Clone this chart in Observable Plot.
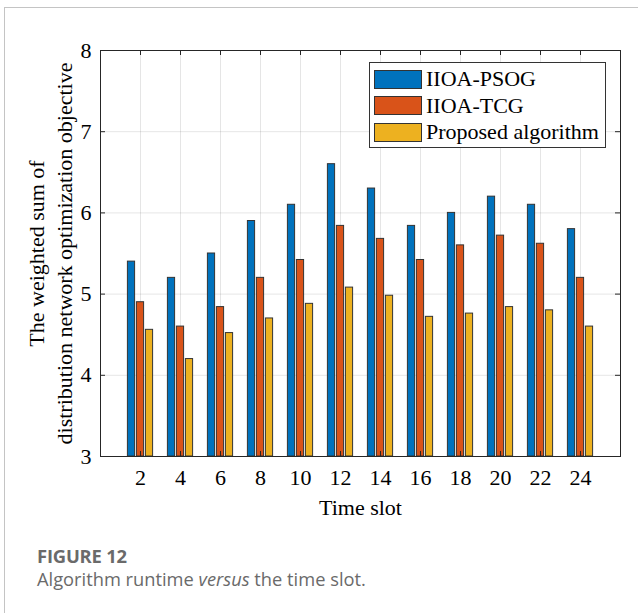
<!DOCTYPE html>
<html>
<head>
<meta charset="utf-8">
<script src="https://cdn.jsdelivr.net/npm/d3@7"></script>
<script src="https://cdn.jsdelivr.net/npm/@observablehq/plot@0.6"></script>
<style>
  html, body { margin: 0; padding: 0; background: #fff; }
  #wrap { position: relative; width: 638px; height: 613px; overflow: hidden; }
  #card { position: absolute; left: 4px; top: 7px; right: -2px; bottom: -2px;
          border-left: 1px solid #c4c4c4; border-top: 1px solid #c4c4c4; }
  #chart { position: absolute; left: 0; top: 0; }
  #legend { position: absolute; left: 369px; top: 62px; width: 237px; height: 86px;
            border: 1px solid #333; background: #fff; box-sizing: border-box;
            font-family: "Liberation Serif", "Times New Roman", serif; font-size: 22px; color: #000; }
  .lrow { position: absolute; left: 4px; height: 20px; display: flex; align-items: center; white-space: nowrap; }
  .sw { width: 48px; height: 19px; border: 1px solid #333; box-sizing: border-box; margin-right: 4px; }
  #fig { position: absolute; left: 37px; top: 543px; font-family: "Open Sans", sans-serif;
         font-weight: 700; font-size: 18.4px; color: #6a6a6a; letter-spacing: -0.2px; }
  #cap { position: absolute; left: 37px; top: 566px; font-family: "Open Sans", sans-serif;
         font-size: 18.3px; color: #6a6a6a; white-space: nowrap; }
</style>
</head>
<body>
<div id="wrap">
  <div id="card"></div>
  <div id="chart"></div>
  <div id="legend"></div>
  <div id="fig"></div>
  <div id="cap"></div>
</div>
<script>
// ---- data ----
const timeSlots = [2, 4, 6, 8, 10, 12, 14, 16, 18, 20, 22, 24];
const seriesNames = ["IIOA-PSOG", "IIOA-TCG", "Proposed algorithm"];
const psog     = [5.40, 5.20, 5.50, 5.90, 6.10, 6.60, 6.30, 5.84, 6.00, 6.20, 6.10, 5.80];
const tcg      = [4.90, 4.60, 4.84, 5.20, 5.42, 5.84, 5.68, 5.42, 5.60, 5.72, 5.62, 5.20];
const proposed = [4.56, 4.20, 4.52, 4.70, 4.88, 5.08, 4.98, 4.72, 4.76, 4.84, 4.80, 4.60];
const yTicks = [3, 4, 5, 6, 7, 8];
const xLabel = "Time slot";
const yLabelLines = ["The weighted sum of", "distribution network optimization objective"];
const figureLabel = "FIGURE 12";
const captionParts = ["Algorithm runtime ", "versus", " the time slot."];
const colors = ["#0072BD", "#D95319", "#EDB120"];

// ---- build table ----
const seriesValues = [psog, tcg, proposed];
const rows = [];
seriesValues.forEach((vals, si) => {
  vals.forEach((v, i) => rows.push({slot: timeSlots[i], series: seriesNames[si], si, value: v}));
});

const W = 638, H = 530;
const mL = 100, mR = 18, mT = 50, mB = 74;
const plotW = W - mL - mR, plotH = H - mT - mB;
const serif = "Liberation Serif, Times New Roman, serif";
const groupOffset = 0.45, halfBar = 0.18;
const axisColor = "#262626";

const chart = Plot.plot({
  width: W, height: H,
  marginLeft: mL, marginRight: mR, marginTop: mT, marginBottom: mB,
  style: {fontFamily: serif, background: "transparent", overflow: "visible"},
  x: {type: "linear", domain: [0, 26], axis: null},
  y: {domain: [3, 8], axis: null},
  color: {domain: seriesNames, range: colors},
  marks: [
    Plot.gridX(timeSlots, {stroke: "#000", strokeOpacity: 0.1, strokeWidth: 1}),
    Plot.gridY(yTicks, {stroke: "#000", strokeOpacity: 0.1, strokeWidth: 1}),
    Plot.rectY(rows, {
      x1: d => d.slot + (d.si - 1) * groupOffset - halfBar,
      x2: d => d.slot + (d.si - 1) * groupOffset + halfBar,
      y1: 3, y2: "value",
      fill: "series", stroke: "#333", strokeWidth: 1
    }),
    Plot.frame({stroke: axisColor, strokeWidth: 1}),
    Plot.tickX(timeSlots, {x: d => d, insetTop: plotH - 5, stroke: axisColor}),
    Plot.tickX(timeSlots, {x: d => d, insetBottom: plotH - 5, stroke: axisColor}),
    Plot.tickY(yTicks, {y: d => d, insetRight: plotW - 5, stroke: axisColor}),
    Plot.tickY(yTicks, {y: d => d, insetLeft: plotW - 5, stroke: axisColor}),
    Plot.axisX(timeSlots, {tickSize: 0, tickPadding: 13, fontSize: 22, fontFamily: serif, fill: "#000", label: null, tickFormat: d => String(d)}),
    Plot.axisY(yTicks, {tickSize: 0, tickPadding: 9, fontSize: 22, fontFamily: serif, fill: "#000", label: null, tickFormat: d => String(d)}),
    Plot.text([xLabel], {text: d => d, frameAnchor: "bottom", dy: 51, lineAnchor: "middle", fontSize: 22, fontFamily: serif, fill: "#000"}),
    Plot.text([yLabelLines.join("\n")], {text: d => d, frameAnchor: "left", dx: -51, rotate: -90, textAnchor: "middle", lineAnchor: "middle", lineHeight: 1.27, fontSize: 22, fontFamily: serif, fill: "#000"})
  ]
});
document.getElementById("chart").appendChild(chart);

// ---- legend ----
const legend = document.getElementById("legend");
seriesNames.forEach((name, i) => {
  const row = document.createElement("div");
  row.className = "lrow";
  row.style.top = (6 + i * 26.7) + "px";
  const sw = document.createElement("div");
  sw.className = "sw";
  sw.style.background = colors[i];
  const t = document.createElement("span");
  t.textContent = name;
  row.appendChild(sw); row.appendChild(t);
  legend.appendChild(row);
});

// ---- caption ----
document.getElementById("fig").textContent = figureLabel;
const cap = document.getElementById("cap");
captionParts.forEach((p, i) => {
  const s = document.createElement(i === 1 ? "i" : "span");
  s.textContent = p;
  cap.appendChild(s);
});
</script>
</body>
</html>
